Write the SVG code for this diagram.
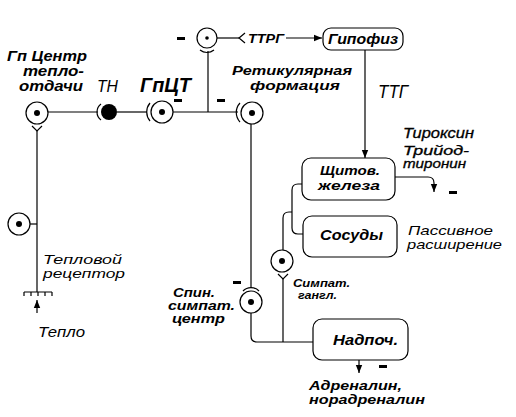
<svg xmlns="http://www.w3.org/2000/svg" width="516" height="417" viewBox="0 0 516 417">
<style>
.ln{fill:none;stroke:#000;stroke-width:1.2}
.cell{fill:#fff;stroke:#000;stroke-width:1.2}
.dot{fill:#000}
.box{fill:#fff;stroke:#000;stroke-width:1.2}
.t{font-family:"Liberation Sans",Arial,sans-serif;font-style:italic;font-weight:bold;fill:#000}
.r{font-family:"Liberation Sans",Arial,sans-serif;font-style:italic;fill:#000}
.m{fill:#000}
</style>
<defs>
<marker id="ah" viewBox="0 0 10 10" refX="10" refY="5" markerWidth="8" markerHeight="8" orient="auto" markerUnits="userSpaceOnUse">
<path d="M0,1 L10,5 L0,9 z" fill="#000"/>
</marker>
</defs>
<rect width="516" height="417" fill="#fff"/>

<g id="connectors">
<path class="ln" d="M48 112 H98"/>
<path class="ln" d="M101 104 A10 10 0 0 0 101 120"/>
<path class="ln" d="M117 112 H147"/>
<path class="ln" d="M150 103 A14 14 0 0 0 150 121"/>
<path class="ln" d="M173 112 H238"/>
<path class="ln" d="M240 103 A14 14 0 0 0 240 122"/>
<path class="ln" d="M208 51 V112"/>
<path class="ln" d="M200 50 A11 11 0 0 0 214 50"/>
<path class="ln" d="M217 38 H239"/>
<path class="ln" d="M245 33 L239 38 L245 43"/>
<path class="ln" d="M286 38 H322" marker-end="url(#ah)"/>
<path class="ln" d="M365 50 V158" marker-end="url(#ah)"/>
<path class="ln" d="M395 177 H428 Q434 177 434 183 V192" marker-end="url(#ah)"/>
<path class="ln" d="M37 130 V292"/>
<path class="ln" d="M32 126 L37 131 L42 126"/>
<path class="ln" d="M30 224 H37"/>
<path class="ln" d="M24 292 H52 M24 292 V296 M31 292 V296 M38 292 V296 M45 292 V296 M52 292 V296"/>
<path class="ln" d="M37 313 V300" marker-end="url(#ah)"/>
<path class="ln" d="M251 124 V288"/>
<path class="ln" d="M243 291 A11 11 0 0 1 259 291"/>
<path class="ln" d="M251 313 V336 Q251 342 257 342 H318"/>
<path class="ln" d="M324 337 L318 342 L324 347"/>
<path class="ln" d="M283 278 V342"/>
<path class="ln" d="M278 274 L283 279 L288 274"/>
<path class="ln" d="M283 250 V218 Q283 212 289 212 H292"/>
<path class="ln" d="M312 184 H298 Q292 184 292 190 V228 Q292 234 298 234 H312"/>
<path class="ln" d="M318 179 L312 184 L318 189"/>
<path class="ln" d="M318 229 L312 234 L318 239"/>
<path class="ln" d="M359 360 V373" marker-end="url(#ah)"/>
</g>

<g id="gp-center">
<circle class="cell" cx="37" cy="113" r="11"/>
<circle class="dot" cx="37" cy="113" r="3"/>
<text class="t" x="7" y="61" font-size="14.5" textLength="80" lengthAdjust="spacingAndGlyphs">Гп Центр</text>
<text class="t" x="23" y="76" font-size="14.5" textLength="61" lengthAdjust="spacingAndGlyphs">тепло-</text>
<text class="t" x="19" y="91" font-size="14.5" textLength="64" lengthAdjust="spacingAndGlyphs">отдачи</text>
</g>

<g id="tn">
<circle class="dot" cx="109" cy="112" r="8"/>
<text class="r" x="97" y="92" font-size="16" textLength="21" lengthAdjust="spacingAndGlyphs">ТН</text>
</g>

<g id="gpct">
<circle class="cell" cx="162" cy="112" r="11"/>
<circle class="dot" cx="162" cy="112" r="3"/>
<text class="t" x="140" y="92" font-size="20" textLength="51" lengthAdjust="spacingAndGlyphs">ГпЦТ</text>
<rect class="m" x="174" y="99" width="8" height="3"/>
</g>

<g id="top-node">
<circle class="cell" cx="207" cy="38" r="10"/>
<circle class="dot" cx="207" cy="38" r="1.8"/>
<rect class="m" x="177" y="37" width="8" height="3"/>
<text class="t" x="248" y="43" font-size="13" textLength="36" lengthAdjust="spacingAndGlyphs">ТТРГ</text>
</g>

<g id="ret">
<circle class="cell" cx="252" cy="113" r="11"/>
<circle class="dot" cx="252" cy="113" r="3"/>
<rect class="m" x="217" y="99" width="8" height="3"/>
<text class="t" x="232" y="75" font-size="13.5" textLength="120" lengthAdjust="spacingAndGlyphs">Ретикулярная</text>
<text class="t" x="250" y="90" font-size="13.5" textLength="90" lengthAdjust="spacingAndGlyphs">формация</text>
</g>

<g id="hypophysis">
<rect class="box" x="323" y="28" width="80" height="22" rx="8"/>
<text class="t" x="328" y="44" font-size="14" textLength="70" lengthAdjust="spacingAndGlyphs">Гипофиз</text>
<text class="r" x="378" y="98" font-size="18" textLength="30" lengthAdjust="spacingAndGlyphs">ТТГ</text>
</g>

<g id="thyroid">
<rect class="box" x="302" y="158" width="93" height="42" rx="9"/>
<text class="t" x="320" y="175" font-size="13.5" textLength="60" lengthAdjust="spacingAndGlyphs">Щитов.</text>
<text class="t" x="318" y="190" font-size="13.5" textLength="62" lengthAdjust="spacingAndGlyphs">железа</text>
<text class="r" x="403" y="138" font-size="14" textLength="71" lengthAdjust="spacingAndGlyphs" stroke="#000" stroke-width="0.3">Тироксин</text>
<text class="r" x="403" y="155" font-size="12" textLength="66" lengthAdjust="spacingAndGlyphs" stroke="#000" stroke-width="0.3">Трийод-</text>
<text class="r" x="403" y="168" font-size="12" textLength="63" lengthAdjust="spacingAndGlyphs" stroke="#000" stroke-width="0.3">тиронин</text>
<rect class="m" x="449" y="191" width="8" height="3"/>
</g>

<g id="vessels">
<rect class="box" x="303" y="216" width="94" height="41" rx="9"/>
<text class="t" x="320" y="240" font-size="14" textLength="63" lengthAdjust="spacingAndGlyphs">Сосуды</text>
<text class="r" x="408" y="235" font-size="13.5" textLength="85" lengthAdjust="spacingAndGlyphs">Пассивное</text>
<text class="r" x="407" y="249" font-size="13.5" textLength="95" lengthAdjust="spacingAndGlyphs">расширение</text>
</g>

<g id="symp-gang">
<circle class="cell" cx="282" cy="261" r="11"/>
<circle class="dot" cx="282" cy="261" r="3"/>
<text class="t" x="293" y="287" font-size="10.5" textLength="57" lengthAdjust="spacingAndGlyphs">Симпат.</text>
<text class="t" x="298" y="299" font-size="10.5" textLength="39" lengthAdjust="spacingAndGlyphs">гангл.</text>
</g>

<g id="spinal">
<circle class="cell" cx="251" cy="302" r="11"/>
<circle class="dot" cx="251" cy="302" r="3"/>
<rect class="m" x="233" y="281" width="8" height="3"/>
<text class="t" x="173" y="297" font-size="12.5" textLength="42" lengthAdjust="spacingAndGlyphs">Спин.</text>
<text class="t" x="168" y="310" font-size="12.5" textLength="67" lengthAdjust="spacingAndGlyphs">симпат.</text>
<text class="t" x="172" y="323" font-size="12.5" textLength="53" lengthAdjust="spacingAndGlyphs">центр</text>
</g>

<g id="heat-receptor">
<circle class="cell" cx="19" cy="224" r="11"/>
<circle class="dot" cx="19" cy="224" r="3"/>
<text class="r" x="43" y="264" font-size="13.5" textLength="79" lengthAdjust="spacingAndGlyphs">Тепловой</text>
<text class="r" x="43" y="278" font-size="13.5" textLength="82" lengthAdjust="spacingAndGlyphs">рецептор</text>
<text class="r" x="38" y="337" font-size="15" textLength="47" lengthAdjust="spacingAndGlyphs">Тепло</text>
</g>

<g id="adrenal">
<rect class="box" x="313" y="319" width="95" height="41" rx="9"/>
<text class="t" x="333" y="345" font-size="14" textLength="65" lengthAdjust="spacingAndGlyphs">Надпоч.</text>
<rect class="m" x="379" y="365" width="8" height="3"/>
<text class="t" x="309" y="390" font-size="13.5" textLength="93" lengthAdjust="spacingAndGlyphs">Адреналин,</text>
<text class="t" x="309" y="404" font-size="13.5" textLength="116" lengthAdjust="spacingAndGlyphs">норадреналин</text>
</g>
</svg>
